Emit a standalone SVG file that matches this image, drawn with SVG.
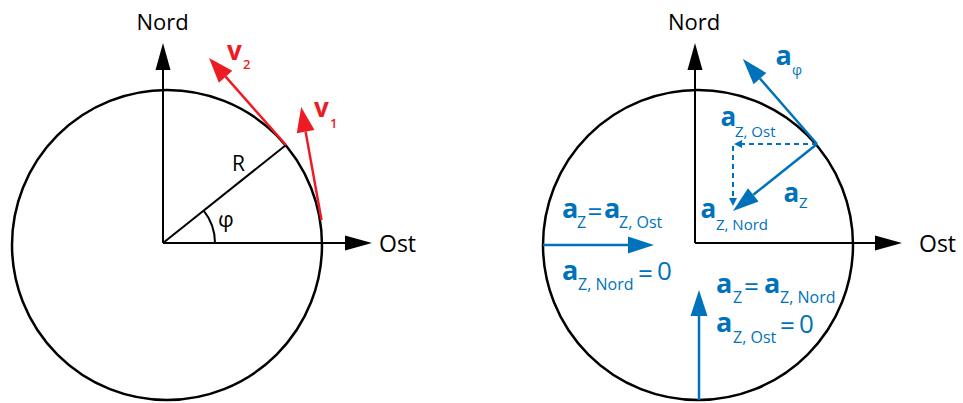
<svg xmlns="http://www.w3.org/2000/svg" width="963" height="403" viewBox="0 0 963 403">
<style>
.circ{fill:none;stroke:#000;stroke-width:2.5}
.ax{stroke:#000;stroke-width:2;fill:none}
.red{stroke:#ED1C24;stroke-width:2.5;fill:none}
.blue{stroke:#0072BC;stroke-width:2.5;fill:none}
.dash{stroke:#0072BC;stroke-width:2;fill:none;stroke-dasharray:5 4}
.t{font-family:"Open Sans","Noto Sans",sans-serif;fill:#000}
.tb{font-family:"Open Sans","Noto Sans",sans-serif;fill:#0072BC}
.tr{font-family:"Open Sans","Noto Sans",sans-serif;fill:#ED1C24}
.b{font-weight:bold}
.sb{font-weight:600}
</style>
<defs>
<marker id="ak" markerUnits="userSpaceOnUse" orient="auto" refX="0" refY="0" markerWidth="30" markerHeight="20" viewBox="0 -10 30 20" overflow="visible"><path d="M0,-7.5 L27,0 L0,7.5 Z" fill="#000"/></marker>
<marker id="ar" markerUnits="userSpaceOnUse" orient="auto" refX="0" refY="0" markerWidth="30" markerHeight="20" viewBox="0 -10 30 20" overflow="visible"><path d="M0,-9 L25,0 L0,9 Z" fill="#ED1C24"/></marker>
<marker id="ab" markerUnits="userSpaceOnUse" orient="auto" refX="0" refY="0" markerWidth="30" markerHeight="20" viewBox="0 -10 30 20" overflow="visible"><path d="M0,-8.5 L26,0 L0,8.5 Z" fill="#0072BC"/></marker>
<marker id="as" markerUnits="userSpaceOnUse" orient="auto" refX="0" refY="0" markerWidth="12" markerHeight="10" viewBox="0 -5 12 10" overflow="visible"><path d="M0,-4 L8,0 L0,4 Z" fill="#0072BC"/></marker>
</defs>

<g id="left-circle"><circle class="circ" cx="167" cy="245" r="155"/></g>
<g id="right-circle"><circle class="circ" cx="698" cy="245" r="155"/></g>

<g id="connectors">
<!-- left axes -->
<line class="ax" x1="163" y1="243" x2="163" y2="70" marker-end="url(#ak)"/>
<line class="ax" x1="163" y1="243" x2="345" y2="243" marker-end="url(#ak)"/>
<line class="ax" x1="163" y1="243" x2="286" y2="145"/>
<path class="ax" d="M215,243 A52,52 0 0 0 203.5,210.4"/>
<!-- red velocities -->
<line class="red" x1="321.5" y1="220" x2="305.6" y2="131.6" marker-end="url(#ar)"/>
<line class="red" x1="286" y1="145" x2="225.6" y2="76.7" marker-end="url(#ar)"/>
<!-- right axes -->
<line class="ax" x1="695" y1="243" x2="695" y2="70" marker-end="url(#ak)"/>
<line class="ax" x1="695" y1="243" x2="875" y2="243" marker-end="url(#ak)"/>
<!-- blue accelerations -->
<line class="blue" x1="817" y1="144" x2="760" y2="78.6" marker-end="url(#ab)"/>
<line class="blue" x1="817" y1="144" x2="753.3" y2="194.8" marker-end="url(#ab)"/>
<line class="dash" x1="817" y1="144" x2="742" y2="144" marker-end="url(#as)"/>
<line class="dash" x1="733" y1="146" x2="733" y2="198" marker-end="url(#as)"/>
<line class="blue" x1="543" y1="245" x2="628" y2="245" marker-end="url(#ab)"/>
<line class="blue" x1="699" y1="400" x2="699" y2="316" marker-end="url(#ab)"/>
</g>

<g id="labels-left">
<text class="t" x="162.5" y="30" font-size="22" text-anchor="middle">Nord</text>
<text class="t" x="379" y="252" font-size="23">Ost</text>
<text class="t" x="232" y="171" font-size="21">R</text>
<text class="t" x="218" y="227" font-size="22">φ</text>
<text class="tr b" x="227" y="60" font-size="26">v</text>
<text class="tr sb" x="243" y="69" font-size="13">2</text>
<text class="tr b" x="314" y="117" font-size="26">v</text>
<text class="tr sb" x="330" y="127.5" font-size="13">1</text>
</g>

<g id="labels-right">
<text class="t" x="694" y="30" font-size="22" text-anchor="middle">Nord</text>
<text class="t" x="919" y="252" font-size="23">Ost</text>

<text class="tb b" x="775.5" y="65" font-size="27">a</text>
<text class="tb" x="792" y="75" font-size="14">φ</text>

<text class="tb b" x="720.5" y="126" font-size="26">a</text>
<text class="tb" x="735" y="137" font-size="15">Z, Ost</text>

<text class="tb b" x="783.5" y="202" font-size="26">a</text>
<text class="tb" x="799" y="208" font-size="15">Z</text>

<text class="tb b" x="700.5" y="218" font-size="26">a</text>
<text class="tb" x="716" y="230" font-size="15">Z, Nord</text>

<text class="tb b" x="562" y="218" font-size="27">a</text>
<text class="tb" x="577" y="228" font-size="16">Z</text>
<text class="tb" x="587.5" y="221" font-size="26">=</text>
<text class="tb b" x="604" y="218" font-size="27">a</text>
<text class="tb" x="619" y="228" font-size="16">Z, Ost</text>

<text class="tb b" x="562" y="280" font-size="27">a</text>
<text class="tb" x="578" y="290" font-size="16">Z, Nord</text>
<text class="tb" x="638" y="283" font-size="26">=</text>
<text class="tb" x="657" y="280" font-size="26">0</text>

<text class="tb b" x="716" y="293" font-size="27">a</text>
<text class="tb" x="733" y="303" font-size="16">Z</text>
<text class="tb" x="744" y="296" font-size="26">=</text>
<text class="tb b" x="764" y="293" font-size="27">a</text>
<text class="tb" x="780" y="303" font-size="16">Z, Nord</text>

<text class="tb b" x="716" y="332" font-size="27">a</text>
<text class="tb" x="733" y="343" font-size="16">Z, Ost</text>
<text class="tb" x="780" y="335" font-size="26">=</text>
<text class="tb" x="799" y="333" font-size="26">0</text>
</g>
</svg>
